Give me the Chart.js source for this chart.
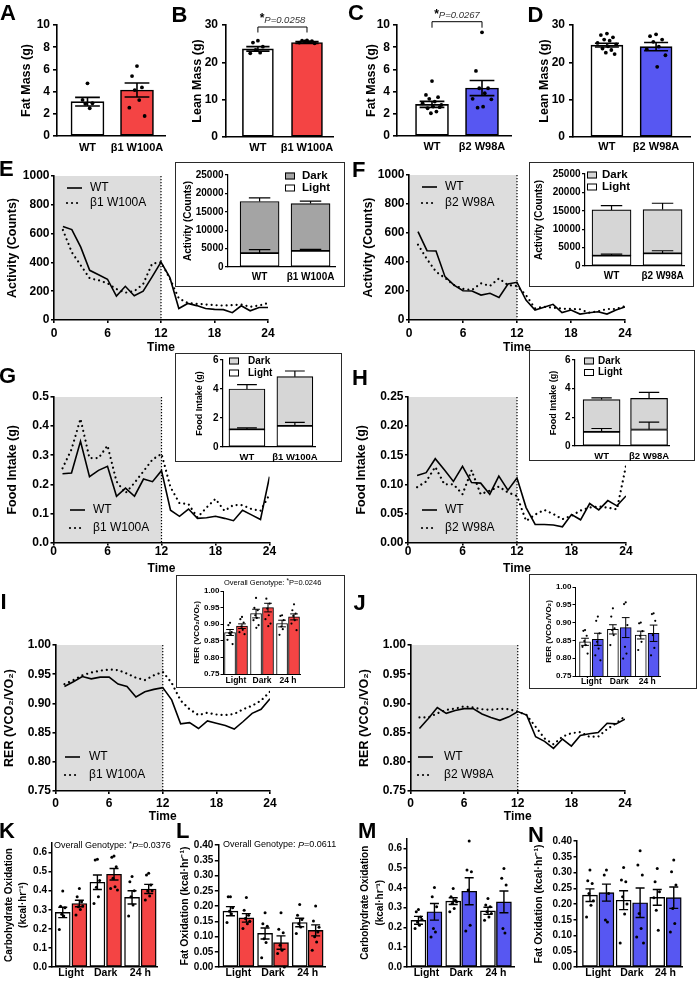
<!DOCTYPE html>
<html>
<head>
<meta charset="utf-8">
<title>Figure</title>
<script src="https://cdn.jsdelivr.net/npm/chart.js@4/dist/chart.umd.min.js"></script>
<style>
  html, body { margin: 0; padding: 0; background: #ffffff; }
  body { position: relative; width: 697px; height: 981px; overflow: hidden; font-family: "Liberation Sans", Arial, sans-serif; }
  canvas { position: absolute; left: 0; top: 0; }
  .letter { position: absolute; font-weight: bold; font-size: 22px; line-height: 22px; color: #000; z-index: 5; }
  .inset { position: absolute; border: 1px solid #2a2a2a; background: #fff; box-sizing: border-box; z-index: 2; }
</style>
</head>
<body>
<div class="letter" style="left:0px;top:2px">A</div>
<div class="letter" style="left:171.5px;top:4px">B</div>
<div class="letter" style="left:348px;top:2px">C</div>
<div class="letter" style="left:527.5px;top:4px">D</div>
<div class="letter" style="left:-1px;top:158px">E</div>
<div class="letter" style="left:352px;top:159px">F</div>
<div class="letter" style="left:-1px;top:365px">G</div>
<div class="letter" style="left:352px;top:367px">H</div>
<div class="letter" style="left:0.5px;top:591px">I</div>
<div class="letter" style="left:353.5px;top:592px">J</div>
<div class="letter" style="left:-1px;top:820px">K</div>
<div class="letter" style="left:176px;top:820px">L</div>
<div class="letter" style="left:358px;top:820px">M</div>
<div class="letter" style="left:528px;top:824px">N</div>

<div class="inset" style="left:175px;top:162px;width:170px;height:125px"></div>
<div class="inset" style="left:529px;top:162px;width:165px;height:125px"></div>
<div class="inset" style="left:175px;top:353px;width:167px;height:109px"></div>
<div class="inset" style="left:529px;top:350px;width:166px;height:111px"></div>
<div class="inset" style="left:176px;top:575px;width:169px;height:113px"></div>
<div class="inset" style="left:529px;top:574px;width:168px;height:115px"></div>

<script>
const W = 697, H = 981;
const FONT = '"Liberation Sans", Arial, Helvetica, sans-serif';

// ---------------- categories & ticks ----------------
const catsB1 = ['WT', 'β1 W100A'];
const catsB2 = ['WT', 'β2 W98A'];
const phases = ['Light', 'Dark', '24 h'];
const hours = [1, 2, 3, 4, 5, 6, 7, 8, 9, 10, 11, 12, 13, 14, 15, 16, 17, 18, 19, 20, 21, 22, 23, 24];
const timeTicks = [0, 6, 12, 18, 24];
const fatTicks = [0, 2, 4, 6, 8, 10];
const leanTicks = [0, 10, 20, 30];
const activityTicks = [0, 200, 400, 600, 800, 1000];
const activityInsetTicks = [0, 5000, 10000, 15000, 20000, 25000];
const foodB1Ticks = [0, 0.1, 0.2, 0.3, 0.4, 0.5];
const foodB2Ticks = [0, 0.05, 0.10, 0.15, 0.20, 0.25];
const foodInsetTicks = [0, 2, 4, 6];
const rerTicks = [0.75, 0.80, 0.85, 0.90, 0.95, 1.00];
const carbTicks = [0, 0.1, 0.2, 0.3, 0.4, 0.5, 0.6];
const fatOxTicks = [0, 0.05, 0.10, 0.15, 0.20, 0.25, 0.30, 0.35, 0.40];

// ---------------- A-D: body composition ----------------
const fatB1Mean = [3.09, 4.14];
const fatB1Sem = [0.39, 0.63];
const fatB1WTPts = [4.75, 3.25, 2.95, 2.9, 2.5];
const fatB1MutPts = [6.3, 5.4, 4.38, 4.14, 3.24, 2.55, 1.8];

const leanB1Mean = [23.6, 25.3];
const leanB1Sem = [0.6, 0.25];
const leanB1WTPts = [25.8, 25.3, 24.2, 23.3, 22.6, 22.4];
const leanB1MutPts = [25.9, 25.8, 25.7, 25.6, 25.4, 25.3, 25.1];

const fatB2Mean = [2.85, 4.32];
const fatB2Sem = [0.27, 0.68];
const fatB2WTPts = [4.95, 3.7, 3.5, 3.35, 3.1, 2.95, 2.8, 2.65, 2.5, 2.2, 2.05, 2.6];
const fatB2MutPts = [9.34, 5.86, 4.3, 4.3, 3.85, 3.35, 3.3, 2.64, 2.55];

const leanB2Mean = [24.6, 24.2];
const leanB2Sem = [0.5, 1.1];
const leanB2WTPts = [27.7, 27.3, 26.7, 26.1, 25.8, 25.2, 24.8, 24.3, 23.7, 23.3, 22.6, 22.2];
const leanB2MutPts = [27.5, 27.0, 26.1, 25.5, 24.2, 23.5, 21.9, 18.8];

// ---------------- E-F: activity ----------------
const actB1WT = [650, 628, 506, 345, 314, 283, 166, 234, 168, 200, 300, 402, 294, 80, 115, 100, 80, 74, 72, 51, 99, 64, 87, 87];
const actB1Mut = [625, 470, 380, 290, 276, 255, 215, 190, 200, 250, 391, 402, 287, 150, 118, 112, 108, 103, 100, 103, 108, 92, 100, 118];
const actB2WT = [609, 478, 476, 299, 241, 202, 200, 172, 184, 156, 248, 260, 138, 69, 88, 108, 51, 69, 41, 50, 57, 41, 69, 90];
const actB2Mut = [520, 420, 333, 290, 241, 215, 207, 253, 235, 287, 241, 234, 172, 80, 92, 85, 78, 76, 74, 50, 60, 76, 76, 95];

const actInsetB1Light = [3800, 4350];
const actInsetB1LightSem = [900, 450];
const actInsetB1Dark = [14000, 12900];
const actInsetB1DarkSem = [1000, 650];
const actInsetB2Light = [2800, 3450];
const actInsetB2LightSem = [450, 700];
const actInsetB2Dark = [12450, 11900];
const actInsetB2DarkSem = [1150, 1700];

// ---------------- G-H: food intake ----------------
const foodB1WT = [0.236, 0.239, 0.348, 0.226, 0.248, 0.262, 0.159, 0.187, 0.159, 0.218, 0.209, 0.247, 0.111, 0.09, 0.115, 0.083, 0.085, 0.09, 0.083, 0.075, 0.111, 0.095, 0.079, 0.226];
const foodB1Mut = [0.255, 0.32, 0.425, 0.29, 0.29, 0.333, 0.21, 0.17, 0.205, 0.245, 0.285, 0.305, 0.19, 0.135, 0.132, 0.086, 0.12, 0.15, 0.109, 0.129, 0.128, 0.115, 0.109, 0.165];
const foodB2WT = [0.115, 0.12, 0.144, 0.125, 0.105, 0.131, 0.103, 0.102, 0.083, 0.114, 0.09, 0.111, 0.06, 0.031, 0.031, 0.03, 0.027, 0.048, 0.039, 0.067, 0.056, 0.072, 0.063, 0.08];
const foodB2Mut = [0.095, 0.105, 0.13, 0.1, 0.1, 0.083, 0.124, 0.083, 0.089, 0.096, 0.086, 0.08, 0.037, 0.048, 0.056, 0.049, 0.04, 0.046, 0.055, 0.06, 0.062, 0.06, 0.057, 0.132];

const foodInsetB1Light = [1.22, 1.45];
const foodInsetB1LightSem = [0.1, 0.25];
const foodInsetB1Dark = [2.78, 3.4];
const foodInsetB1DarkSem = [0.3, 0.39];
const foodInsetB2Light = [0.98, 1.15];
const foodInsetB2LightSem = [0.24, 0.52];
const foodInsetB2Dark = [2.26, 2.17];
const foodInsetB2DarkSem = [0.12, 0.42];

// ---------------- I-J: RER ----------------
const rerB1WT = [0.929, 0.937, 0.946, 0.942, 0.945, 0.945, 0.933, 0.929, 0.911, 0.92, 0.924, 0.927, 0.906, 0.865, 0.867, 0.857, 0.87, 0.866, 0.862, 0.856, 0.869, 0.883, 0.89, 0.908];
const rerB1Mut = [0.933, 0.94, 0.948, 0.953, 0.956, 0.958, 0.957, 0.951, 0.944, 0.94, 0.948, 0.954, 0.935, 0.905, 0.89, 0.88, 0.884, 0.881, 0.88, 0.882, 0.89, 0.896, 0.905, 0.92];
const rerB2WT = [0.857, 0.874, 0.893, 0.883, 0.888, 0.891, 0.891, 0.882, 0.876, 0.871, 0.877, 0.886, 0.88, 0.843, 0.835, 0.823, 0.839, 0.827, 0.845, 0.848, 0.85, 0.866, 0.865, 0.873];
const rerB2Mut = [0.876, 0.876, 0.883, 0.889, 0.891, 0.895, 0.893, 0.89, 0.889, 0.891, 0.89, 0.886, 0.88, 0.86, 0.84, 0.83, 0.843, 0.849, 0.851, 0.843, 0.843, 0.856, 0.866, 0.878];

const rerInsetB1WT = [0.875, 0.932, 0.902];
const rerInsetB1WTSem = [0.009, 0.013, 0.01];
const rerInsetB1Mut = [0.894, 0.95, 0.922];
const rerInsetB1MutSem = [0.007, 0.013, 0.009];
const rerInsetB1WTPts = [[0.904, 0.897, 0.876, 0.873, 0.87, 0.853, 0.84], [0.979, 0.949, 0.942, 0.927, 0.919, 0.912, 0.897, 0.889], [0.927, 0.925, 0.912, 0.893, 0.885, 0.868]];
const rerInsetB1MutPts = [[0.922, 0.915, 0.905, 0.893, 0.883, 0.876, 0.87], [1.004, 0.977, 0.962, 0.947, 0.927, 0.915, 0.902, 0.894], [0.96, 0.942, 0.932, 0.925, 0.912, 0.902, 0.882]];

const rerInsetB2WT = [0.846, 0.881, 0.865];
const rerInsetB2WTSem = [0.01, 0.013, 0.011];
const rerInsetB2Mut = [0.853, 0.886, 0.87];
const rerInsetB2MutSem = [0.017, 0.028, 0.023];
const rerInsetB2WTPts = [[0.879, 0.877, 0.863, 0.848, 0.837, 0.832, 0.813], [0.94, 0.917, 0.884, 0.879, 0.865, 0.837], [0.9, 0.898, 0.876, 0.863, 0.846, 0.823]];
const rerInsetB2MutPts = [[0.917, 0.905, 0.87, 0.846, 0.827, 0.808, 0.794], [0.957, 0.952, 0.893, 0.832, 0.813, 0.799], [0.926, 0.924, 0.905, 0.865, 0.829, 0.808]];

// ---------------- K-N: substrate oxidation ----------------
const carbB1WT = [0.286, 0.444, 0.365];
const carbB1WTSem = [0.027, 0.038, 0.035];
const carbB1Mut = [0.333, 0.486, 0.409];
const carbB1MutSem = [0.017, 0.03, 0.024];
const carbB1WTPts = [[0.398, 0.319, 0.31, 0.277, 0.267, 0.196], [0.565, 0.561, 0.453, 0.418, 0.368, 0.333], [0.474, 0.447, 0.4, 0.368, 0.325, 0.267]];
const carbB1MutPts = [[0.412, 0.368, 0.342, 0.316, 0.302, 0.272, 0.32], [0.582, 0.575, 0.526, 0.465, 0.421, 0.412, 0.404], [0.491, 0.482, 0.43, 0.398, 0.372, 0.351, 0.4]];

const fatOxB1WT = [0.183, 0.11, 0.146];
const fatOxB1WTSem = [0.015, 0.018, 0.014];
const fatOxB1Mut = [0.161, 0.08, 0.12];
const fatOxB1MutSem = [0.014, 0.022, 0.018];
const fatOxB1WTPts = [[0.23, 0.23, 0.194, 0.183, 0.175, 0.146], [0.178, 0.142, 0.134, 0.093, 0.08, 0.03], [0.205, 0.17, 0.156, 0.142, 0.131, 0.11]];
const fatOxB1MutPts = [[0.228, 0.186, 0.17, 0.159, 0.142, 0.126, 0.15], [0.178, 0.124, 0.112, 0.071, 0.055, 0.044, 0.0], [0.2, 0.151, 0.115, 0.099, 0.082, 0.055, 0.13]];

const carbB2WT = [0.236, 0.333, 0.284];
const carbB2WTSem = [0.02, 0.017, 0.018];
const carbB2Mut = [0.279, 0.383, 0.329];
const carbB2MutSem = [0.042, 0.068, 0.055];
const carbB2WTPts = [[0.29, 0.279, 0.253, 0.228, 0.211, 0.194, 0.24], [0.397, 0.355, 0.338, 0.321, 0.296, 0.279, 0.33], [0.346, 0.313, 0.304, 0.279, 0.253, 0.236, 0.27]];
const carbB2MutPts = [[0.402, 0.355, 0.304, 0.194, 0.177, 0.152], [0.637, 0.49, 0.481, 0.389, 0.211, 0.182], [0.498, 0.448, 0.414, 0.194, 0.172]];

const fatOxB2WT = [0.228, 0.212, 0.221];
const fatOxB2WTSem = [0.02, 0.03, 0.025];
const fatOxB2Mut = [0.236, 0.204, 0.22];
const fatOxB2MutSem = [0.027, 0.047, 0.034];
const fatOxB2WTPts = [[0.308, 0.274, 0.265, 0.233, 0.196, 0.159, 0.21], [0.316, 0.276, 0.271, 0.223, 0.168, 0.076, 0.2], [0.313, 0.271, 0.239, 0.18, 0.117, 0.22]];
const fatOxB2MutPts = [[0.308, 0.292, 0.233, 0.149, 0.143], [0.369, 0.324, 0.292, 0.17, 0.122, 0.095, 0.076], [0.34, 0.302, 0.26, 0.186, 0.138, 0.111]];

// ---------------- styling ----------------
const RED = '#f44444';
const BLUE = '#5757f2';
const SHADE = '#dddddd';
const DARK_E = '#a4a4a4';
const DARK_L = '#d6d6d6';
const JIT = [0, -0.55, 0.55, -0.25, 0.25, -0.85, 0.85, 0.1, -0.4, 0.4, -0.1, 0.7];

Chart.defaults.font.family = FONT;
Chart.defaults.color = '#000';

const fmtInt = v => String(Math.round(v));
const fmt1 = v => v.toFixed(1);
const fmt2 = v => v.toFixed(2);

function fontStr(s) {
  return (s.style || 'normal') + ' ' + (s.weight || 'normal') + ' ' + s.size + 'px ' + FONT;
}
function mkCanvas(z) {
  const c = document.createElement('canvas');
  c.width = W; c.height = H;
  c.style.zIndex = String(z);
  document.body.appendChild(c);
  return c;
}
function prep(f) {
  f.lh = f.titleLH || f.titleSize * 1.2;
  if (f.axisW === undefined) f.axisW = 1.6;
  if (f.tickLen === undefined) f.tickLen = 4;
  if (f.yPad === undefined) f.yPad = 2;
  if (f.timeY !== undefined) {
    f.xBoxBottom = f.timeY + 7.2;
    f.xPad = f.tickLabelY - f.bottom - f.tickLen - 7.2;
  } else {
    f.xBoxBottom = Math.min(H, f.labelY + 12);
    f.xPad = f.labelY - f.bottom - f.catSize * 0.6;
  }
  return f;
}
function yScale(f, ticks, fmt, min, max, stacked) {
  return {
    type: 'linear', position: 'left', min: min, max: max, stacked: !!stacked,
    afterBuildTicks: s => { s.ticks = ticks.map(v => ({ value: v })); },
    ticks: { autoSkip: false, padding: f.yPad, color: '#000', font: { size: f.tickSize, weight: 'bold' }, callback: v => fmt(v) },
    grid: { display: true, drawOnChartArea: false, drawTicks: true, tickLength: f.tickLen, color: '#000', lineWidth: f.axisW },
    border: { display: true, color: '#000', width: f.axisW },
    title: { display: true, text: f.yTitle, color: '#000', padding: 0, font: { size: f.titleSize, weight: 'bold', lineHeight: f.lh + 'px' } },
    afterFit: s => { s.width = f.axisX - (f.yTitleX - f.lh / 2); s.paddingTop = 0; s.paddingBottom = 0; }
  };
}
function xTime(f) {
  return {
    type: 'linear', position: 'bottom', min: 0, max: 24, offset: false,
    afterBuildTicks: s => { s.ticks = timeTicks.map(v => ({ value: v })); },
    ticks: { autoSkip: false, maxRotation: 0, padding: f.xPad, color: '#000', font: { size: 12, weight: 'bold' }, callback: v => String(v) },
    grid: { display: true, drawOnChartArea: false, drawTicks: true, tickLength: f.tickLen, color: '#000', lineWidth: f.axisW, offset: false },
    border: { display: true, color: '#000', width: f.axisW },
    title: { display: true, text: 'Time', color: '#000', padding: 0, font: { size: 12, weight: 'bold' } },
    afterFit: s => { s.height = f.xBoxBottom - f.bottom; s.paddingLeft = 0; s.paddingRight = 0; }
  };
}
function xCat(f, cats, stacked) {
  return {
    type: 'linear', position: 'bottom', min: f.xmin, max: f.xmax, offset: false, stacked: !!stacked,
    afterBuildTicks: s => { s.ticks = cats.map((c, i) => ({ value: i })); },
    ticks: { autoSkip: false, maxRotation: 0, padding: f.xPad, color: '#000', font: { size: f.catSize, weight: 'bold' }, callback: v => cats[Math.round(v)] },
    grid: { display: false, drawTicks: false, offset: false },
    border: { display: true, color: '#000', width: f.axisW },
    afterFit: s => { s.height = f.xBoxBottom - f.bottom; s.paddingLeft = 0; s.paddingRight = 0; }
  };
}
function makeChart(z, f, type, datasets, scales, plugins) {
  const c = mkCanvas(z);
  return new Chart(c, {
    type: type,
    data: { datasets: datasets },
    options: {
      responsive: false, maintainAspectRatio: false, animation: false, devicePixelRatio: 1, events: [],
      layout: { padding: { left: f.yTitleX - f.lh / 2, right: W - f.right, top: f.top, bottom: H - f.xBoxBottom } },
      plugins: { legend: { display: false }, tooltip: { enabled: false }, title: { display: false } },
      scales: scales
    },
    plugins: plugins || []
  });
}

// ---------------- plugins ----------------
function errPlug(lw) {
  return {
    id: 'errbars',
    afterDatasetsDraw(chart) {
      const ctx = chart.ctx, ys = chart.scales.y;
      chart.data.datasets.forEach((ds, di) => {
        if (!ds.errs) return;
        const meta = chart.getDatasetMeta(di);
        meta.data.forEach((el, i) => {
          const e = ds.errs[i];
          if (!e) return;
          const px = Math.abs(ys.getPixelForValue(0) - ys.getPixelForValue(e));
          const p = el.getProps(['x', 'y', 'width'], true);
          const cw = p.width * (ds.capFrac || 0.6) / 2;
          ctx.save();
          ctx.strokeStyle = '#000'; ctx.lineWidth = lw;
          ctx.beginPath();
          ctx.moveTo(p.x, p.y - px); ctx.lineTo(p.x, ds.errUp ? p.y : p.y + px);
          ctx.moveTo(p.x - cw, p.y - px); ctx.lineTo(p.x + cw, p.y - px);
          if (!ds.errUp) { ctx.moveTo(p.x - cw, p.y + px); ctx.lineTo(p.x + cw, p.y + px); }
          ctx.stroke();
          ctx.restore();
        });
      });
    }
  };
}
function shadePlug(from, to) {
  return {
    id: 'shade',
    beforeDraw(chart) {
      const a = chart.chartArea, xs = chart.scales.x, ctx = chart.ctx;
      const x0 = xs.getPixelForValue(from), x1 = xs.getPixelForValue(to);
      ctx.save(); ctx.fillStyle = SHADE; ctx.fillRect(x0, a.top, x1 - x0, a.bottom - a.top); ctx.restore();
    },
    beforeDatasetsDraw(chart) {
      const a = chart.chartArea, ctx = chart.ctx;
      const x1 = chart.scales.x.getPixelForValue(to);
      ctx.save(); ctx.strokeStyle = '#000'; ctx.lineWidth = 1.2; ctx.setLineDash([1.2, 1.8]);
      ctx.beginPath(); ctx.moveTo(x1, a.top); ctx.lineTo(x1, a.bottom); ctx.stroke(); ctx.restore();
    }
  };
}
function lineLegendPlug(L) {
  return {
    id: 'lineLegend',
    afterDraw(chart) {
      const ctx = chart.ctx;
      chart.data.datasets.forEach((ds, i) => {
        const yy = L.y + i * L.dy;
        ctx.save();
        ctx.strokeStyle = '#000'; ctx.lineWidth = ds.borderWidth;
        ctx.setLineDash(ds.borderDash || []); ctx.lineCap = ds.borderCapStyle || 'butt';
        ctx.beginPath(); ctx.moveTo(L.x, yy); ctx.lineTo(L.x + 15, yy); ctx.stroke();
        ctx.setLineDash([]);
        ctx.fillStyle = '#000'; ctx.font = fontStr({ size: 12 }); ctx.textBaseline = 'middle';
        ctx.fillText(ds.label, L.tx, yy);
        ctx.restore();
      });
    }
  };
}
function boxLegendPlug(L) {
  return {
    id: 'boxLegend',
    afterDraw(chart) {
      const ctx = chart.ctx;
      const items = chart.data.datasets.slice().reverse();
      items.forEach((ds, i) => {
        const yy = L.y + i * L.dy;
        ctx.save();
        ctx.fillStyle = ds.backgroundColor; ctx.fillRect(L.x, yy - 3.5, 10, 7);
        ctx.strokeStyle = '#000'; ctx.lineWidth = 1; ctx.strokeRect(L.x + 0.5, yy - 3, 9, 6);
        ctx.fillStyle = '#000'; ctx.font = fontStr({ size: L.size, weight: 'bold' }); ctx.textBaseline = 'middle';
        ctx.fillText(ds.label, L.tx, yy);
        ctx.restore();
      });
    }
  };
}
function notesPlug(list) {
  return {
    id: 'notes',
    afterDraw(chart) {
      const ctx = chart.ctx, xs = chart.scales.x;
      list.forEach(n => {
        ctx.save();
        let cx = n.x;
        if (n.bracket) {
          const x0 = xs.getPixelForValue(n.bracket[0]), x1 = xs.getPixelForValue(n.bracket[1]);
          ctx.strokeStyle = '#000'; ctx.lineWidth = 1;
          ctx.beginPath();
          ctx.moveTo(x0, n.by + n.drop); ctx.lineTo(x0, n.by); ctx.lineTo(x1, n.by); ctx.lineTo(x1, n.by + n.drop);
          ctx.stroke();
          cx = (x0 + x1) / 2;
        }
        let total = 0;
        n.runs.forEach(r => { ctx.font = fontStr(r.font); r.w = ctx.measureText(r.t).width; total += r.w; });
        let x = n.align === 'center' ? cx - total / 2 : cx;
        ctx.textBaseline = 'middle';
        n.runs.forEach(r => {
          ctx.font = fontStr(r.font); ctx.fillStyle = r.color || '#000';
          ctx.fillText(r.t, x, n.y + (r.dy || 0));
          x += r.w;
        });
        ctx.restore();
      });
    }
  };
}

// ---------------- panel builders ----------------
function dotSet(pts, center, f) {
  const ppu = (f.right - f.axisX) / (f.xmax - f.xmin);
  return {
    type: 'scatter',
    data: pts.map((v, k) => ({ x: center + JIT[k % JIT.length] * f.spread / ppu, y: v })),
    pointRadius: f.dotR, pointHoverRadius: f.dotR, pointBackgroundColor: '#000', pointBorderColor: '#000', pointBorderWidth: 0,
    clip: false, order: 0
  };
}
function barPanel(f, cats, means, sems, ptsList, colors, ticks, max, fmt, extra) {
  prep(f);
  const ds = [{
    type: 'bar', data: means.map((m, i) => ({ x: i, y: m })), errs: sems, capFrac: f.capFrac,
    backgroundColor: colors, borderColor: '#000', borderWidth: f.barBW, borderSkipped: false, barThickness: f.bt, order: 1
  }];
  ptsList.forEach((p, i) => ds.push(dotSet(p, i, f)));
  const plugs = [errPlug(f.errW)];
  if (extra) plugs.push(extra);
  return makeChart(1, f, 'bar', ds, { x: xCat(f, cats), y: yScale(f, ticks, fmt, 0, max) }, plugs);
}
function stackedInset(f, cats, light, lightSem, dark, darkSem, darkColor, ticks, max, fmt, leg) {
  prep(f);
  const common = { type: 'bar', errUp: true, capFrac: f.capFrac, borderColor: '#000', borderWidth: f.barBW, borderSkipped: false, barThickness: f.bt };
  const ds = [
    Object.assign({ label: 'Light', data: light.map((v, i) => ({ x: i, y: v })), errs: lightSem, backgroundColor: '#ffffff' }, common),
    Object.assign({ label: 'Dark', data: dark.map((v, i) => ({ x: i, y: v })), errs: darkSem, backgroundColor: darkColor }, common)
  ];
  return makeChart(3, f, 'bar', ds, { x: xCat(f, cats, true), y: yScale(f, ticks, fmt, 0, max, true) }, [errPlug(f.errW), boxLegendPlug(leg)]);
}
function groupedPanel(z, f, cats, wt, wtSem, mut, mutSem, wtPts, mutPts, color, ticks, min, max, fmt, extra) {
  prep(f);
  const common = { type: 'bar', grouped: false, capFrac: f.capFrac, borderColor: '#000', borderWidth: f.barBW, borderSkipped: false, barThickness: f.bt, order: 1 };
  const ds = [
    Object.assign({ label: 'WT', data: wt.map((v, i) => ({ x: i - f.d, y: v })), errs: wtSem, backgroundColor: '#ffffff' }, common),
    Object.assign({ label: 'Mut', data: mut.map((v, i) => ({ x: i + f.d, y: v })), errs: mutSem, backgroundColor: color }, common)
  ];
  wtPts.forEach((p, i) => ds.push(dotSet(p, i - f.d, f)));
  mutPts.forEach((p, i) => ds.push(dotSet(p, i + f.d, f)));
  const plugs = [errPlug(f.errW)];
  if (extra) plugs.push(extra);
  return makeChart(z, f, 'bar', ds, { x: xCat(f, cats), y: yScale(f, ticks, fmt, min, max) }, plugs);
}
function linePanel(f, wt, mut, mutLabel, ticks, min, max, fmt, leg) {
  prep(f);
  const ds = [
    { type: 'line', label: 'WT', data: hours.map((h, i) => ({ x: h, y: wt[i] })), borderColor: '#000', borderWidth: 1.6, pointRadius: 0, tension: 0, fill: false },
    { type: 'line', label: mutLabel, data: hours.map((h, i) => ({ x: h, y: mut[i] })), borderColor: '#000', borderWidth: 2.2, borderDash: [0.01, 5], borderCapStyle: 'round', pointRadius: 0, tension: 0, fill: false }
  ];
  return makeChart(1, f, 'line', ds, { x: xTime(f), y: yScale(f, ticks, fmt, min, max) }, [shadePlug(0, 12), lineLegendPlug(leg)]);
}

// ---------------- top row ----------------
const topBase = { top: 25, titleSize: 12.5, tickSize: 12, tickLen: 4, yPad: 3, axisW: 1.6, catSize: 11, capFrac: 0.75, spread: 9, dotR: 1.9, barBW: 1.6, errW: 1.6 };
barPanel(Object.assign({}, topBase, { axisX: 57, right: 165, bottom: 136, yTitleX: 26.5, yTitle: 'Fat Mass (g)', xmin: -0.616, xmax: 1.566, bt: 33, labelY: 147.5 }),
  catsB1, fatB1Mean, fatB1Sem, [fatB1WTPts, fatB1MutPts], ['#ffffff', RED], fatTicks, 10, fmtInt);
barPanel(Object.assign({}, topBase, { axisX: 226, right: 333, bottom: 137, yTitleX: 197.5, yTitle: 'Lean Mass (g)', xmin: -0.65, xmax: 1.53, bt: 31, labelY: 147.5, yPad: 4 }),
  catsB1, leanB1Mean, leanB1Sem, [leanB1WTPts, leanB1MutPts], ['#ffffff', RED], leanTicks, 30, fmtInt,
  notesPlug([{ bracket: [0, 1], by: 27, drop: 5.5, y: 20, align: 'center', runs: [{ t: '*', font: { size: 12, weight: 'bold' }, dy: -1 }, { t: 'P=0.0258', font: { size: 9.5, style: 'italic' }, color: '#333' }] }]));
barPanel(Object.assign({}, topBase, { axisX: 397, right: 511, bottom: 136, yTitleX: 372, yTitle: 'Fat Mass (g)', xmin: -0.7, xmax: 1.58, bt: 33, labelY: 147, spread: 11 }),
  catsB2, fatB2Mean, fatB2Sem, [fatB2WTPts, fatB2MutPts], ['#ffffff', BLUE], fatTicks, 10, fmtInt,
  notesPlug([{ bracket: [0, 1], by: 21.7, drop: 6, y: 15.5, align: 'center', runs: [{ t: '*', font: { size: 12, weight: 'bold' }, dy: -1 }, { t: 'P=0.0267', font: { size: 9.5, style: 'italic' }, color: '#333' }] }]));
barPanel(Object.assign({}, topBase, { axisX: 573, right: 690, bottom: 137, yTitleX: 544.5, yTitle: 'Lean Mass (g)', xmin: -0.69, xmax: 1.69, bt: 32, labelY: 147, yPad: 4, spread: 11 }),
  catsB2, leanB2Mean, leanB2Sem, [leanB2WTPts, leanB2MutPts], ['#ffffff', BLUE], leanTicks, 30, fmtInt);

// ---------------- line panels ----------------
const lineBase = { titleSize: 12.5, tickSize: 12, tickLen: 3, yPad: 1.5, axisW: 1.6 };
linePanel(Object.assign({}, lineBase, { axisX: 54, right: 268, top: 176, bottom: 320, yTitleX: 13, yTitle: 'Activity (Counts)', tickLabelY: 334, timeY: 348 }),
  actB1WT, actB1Mut, 'β1 W100A', activityTicks, 0, 1000, fmtInt, { x: 67, tx: 90, y: 188, dy: 15 });
linePanel(Object.assign({}, lineBase, { axisX: 409, right: 625, top: 175, bottom: 320, yTitleX: 369, yTitle: 'Activity (Counts)', tickLabelY: 333.5, timeY: 348 }),
  actB2WT, actB2Mut, 'β2 W98A', activityTicks, 0, 1000, fmtInt, { x: 422, tx: 445, y: 187, dy: 16 });
linePanel(Object.assign({}, lineBase, { axisX: 53.5, right: 269.5, top: 397, bottom: 542.5, yTitleX: 13, yTitle: 'Food Intake (g)', tickLabelY: 552, timeY: 568.3 }),
  foodB1WT, foodB1Mut, 'β1 W100A', foodB1Ticks, 0, 0.5, fmt1, { x: 70, tx: 93, y: 510, dy: 18 });
linePanel(Object.assign({}, lineBase, { axisX: 408, right: 626, top: 397, bottom: 542.5, yTitleX: 362, yTitle: 'Food Intake (g)', tickLabelY: 552, timeY: 568.3 }),
  foodB2WT, foodB2Mut, 'β2 W98A', foodB2Ticks, 0, 0.25, fmt2, { x: 422, tx: 445, y: 510, dy: 18 });
linePanel(Object.assign({}, lineBase, { axisX: 55.5, right: 270, top: 645, bottom: 791, yTitleX: 10, yTitle: 'RER (VCO₂/VO₂)', tickLabelY: 803.3, timeY: 816.3 }),
  rerB1WT, rerB1Mut, 'β1 W100A', rerTicks, 0.75, 1.0, fmt2, { x: 65, tx: 89, y: 757, dy: 18 });
linePanel(Object.assign({}, lineBase, { axisX: 410.5, right: 625, top: 645, bottom: 791, yTitleX: 365, yTitle: 'RER (VCO₂/VO₂)', tickLabelY: 803.3, timeY: 816.3 }),
  rerB2WT, rerB2Mut, 'β2 W98A', rerTicks, 0.75, 1.0, fmt2, { x: 418, tx: 444, y: 757, dy: 18 });

// ---------------- stacked insets ----------------
const insetBase = { titleSize: 10, tickSize: 10, tickLen: 3, yPad: 1.5, axisW: 1.2, catSize: 10, capFrac: 0.55, barBW: 1.2, errW: 1.2 };
stackedInset(Object.assign({}, insetBase, { axisX: 228, right: 335, top: 175, bottom: 267, yTitleX: 188, yTitle: 'Activity (Counts)', xmin: -0.62, xmax: 1.48, bt: 39, labelY: 277.3 }),
  catsB1, actInsetB1Light, actInsetB1LightSem, actInsetB1Dark, actInsetB1DarkSem, DARK_E, activityInsetTicks, 25000, fmtInt, { x: 285, tx: 302, y: 176, dy: 12, size: 11.5 });
stackedInset(Object.assign({}, insetBase, { axisX: 585, right: 684, top: 174, bottom: 266, yTitleX: 539, yTitle: 'Activity (Counts)', xmin: -0.52, xmax: 1.42, bt: 39, labelY: 276 }),
  catsB2, actInsetB2Light, actInsetB2LightSem, actInsetB2Dark, actInsetB2DarkSem, DARK_L, activityInsetTicks, 25000, fmtInt, { x: 587, tx: 602, y: 175, dy: 12, size: 11.5 });
stackedInset(Object.assign({}, insetBase, { axisX: 223, right: 315, top: 360, bottom: 447, yTitleX: 200, titleSize: 9, yTitle: 'Food Intake (g)', xmin: -0.5, xmax: 1.42, bt: 36, labelY: 457, catSize: 9.5 }),
  catsB1, foodInsetB1Light, foodInsetB1LightSem, foodInsetB1Dark, foodInsetB1DarkSem, DARK_L, foodInsetTicks, 6, fmtInt, { x: 229, tx: 248, y: 361, dy: 12, size: 10 });
stackedInset(Object.assign({}, insetBase, { axisX: 575, right: 669, top: 360, bottom: 446, yTitleX: 554, titleSize: 9, yTitle: 'Food Intake (g)', xmin: -0.56, xmax: 1.42, bt: 37, labelY: 456.7, catSize: 9.5 }),
  catsB2, foodInsetB2Light, foodInsetB2LightSem, foodInsetB2Dark, foodInsetB2DarkSem, DARK_L, foodInsetTicks, 6, fmtInt, { x: 584, tx: 598, y: 361, dy: 11.5, size: 10 });

// ---------------- grouped RER insets ----------------
const rerInsetBase = { titleSize: 8, tickSize: 8, tickLen: 2.5, yPad: 1, axisW: 1, catSize: 8.5, capFrac: 0.7, spread: 3, dotR: 1.1, barBW: 1, errW: 1, bt: 11, d: 0.23 };
groupedPanel(3, Object.assign({}, rerInsetBase, { axisX: 223, right: 300, top: 591, bottom: 674, yTitleX: 197, yTitle: 'RER (VCO₂/VO₂)', xmin: -0.5, xmax: 2.46, labelY: 681 }),
  phases, rerInsetB1WT, rerInsetB1WTSem, rerInsetB1Mut, rerInsetB1MutSem, rerInsetB1WTPts, rerInsetB1MutPts, RED, rerTicks, 0.75, 1.0, fmt2,
  notesPlug([{ x: 224, y: 583, align: 'left', runs: [{ t: 'Overall Genotype: ', font: { size: 7.5 } }, { t: '*', font: { size: 6.5 }, dy: -1.5 }, { t: 'P=0.0246', font: { size: 7.5 } }] }]));
groupedPanel(3, Object.assign({}, rerInsetBase, { axisX: 575, right: 660, top: 587, bottom: 676, yTitleX: 549, yTitle: 'RER (VCO₂/VO₂)', xmin: -0.59, xmax: 2.46, labelY: 682 }),
  phases, rerInsetB2WT, rerInsetB2WTSem, rerInsetB2Mut, rerInsetB2MutSem, rerInsetB2WTPts, rerInsetB2MutPts, BLUE, rerTicks, 0.75, 1.0, fmt2);

// ---------------- bottom row ----------------
const botBase = { titleSize: 10, tickSize: 10, tickLen: 3.5, yPad: 1.5, axisW: 1.5, catSize: 10.5, capFrac: 0.6, spread: 4, dotR: 1.5, barBW: 1.4, errW: 1.4, bt: 15, bottom: 967, labelY: 973 };
groupedPanel(1, Object.assign({}, botBase, { axisX: 52, right: 157, top: 843, yTitleX: 9.3, titleLH: 14, yTitle: ['Carbohydrate Oxidation', '(kcal·hr⁻¹)'], xmin: -0.55, xmax: 2.48, d: 0.24 }),
  phases, carbB1WT, carbB1WTSem, carbB1Mut, carbB1MutSem, carbB1WTPts, carbB1MutPts, RED, carbTicks, 0, 0.65, fmt1,
  notesPlug([{ x: 54, y: 846, align: 'left', runs: [{ t: 'Overall Genotype: ', font: { size: 9 } }, { t: '*', font: { size: 7.5 }, dy: -2 }, { t: 'P', font: { size: 9, style: 'italic' } }, { t: '=0.0376', font: { size: 9 } }] }]));
groupedPanel(1, Object.assign({}, botBase, { axisX: 218.3, right: 325, top: 845, yTitleX: 185, titleSize: 10.5, yTitle: 'Fat Oxidation (kcal·hr⁻¹)', xmin: -0.58, xmax: 2.5, d: 0.23 }),
  phases, fatOxB1WT, fatOxB1WTSem, fatOxB1Mut, fatOxB1MutSem, fatOxB1WTPts, fatOxB1MutPts, RED, fatOxTicks, 0, 0.4, fmt2,
  notesPlug([{ x: 223, y: 845, align: 'left', runs: [{ t: 'Overall Genotype: ', font: { size: 9 } }, { t: 'P', font: { size: 9, style: 'italic' } }, { t: '=0.0611', font: { size: 9 } }] }]));
groupedPanel(1, Object.assign({}, botBase, { axisX: 407, right: 514, top: 838.4, yTitleX: 365, titleLH: 15, yTitle: ['Carbohydrate Oxidation', '(kcal·hr⁻¹)'], xmin: -0.56, xmax: 2.52, d: 0.23 }),
  phases, carbB2WT, carbB2WTSem, carbB2Mut, carbB2MutSem, carbB2WTPts, carbB2MutPts, BLUE, carbTicks, 0, 0.65, fmt1);
groupedPanel(1, Object.assign({}, botBase, { axisX: 577, right: 682, top: 841, yTitleX: 539, titleSize: 10.5, yTitle: 'Fat Oxidation (kcal·hr⁻¹)', xmin: -0.63, xmax: 2.49, d: 0.245 }),
  phases, fatOxB2WT, fatOxB2WTSem, fatOxB2Mut, fatOxB2MutSem, fatOxB2WTPts, fatOxB2MutPts, BLUE, fatOxTicks, 0, 0.4, fmt2);
</script>
</body>
</html>
